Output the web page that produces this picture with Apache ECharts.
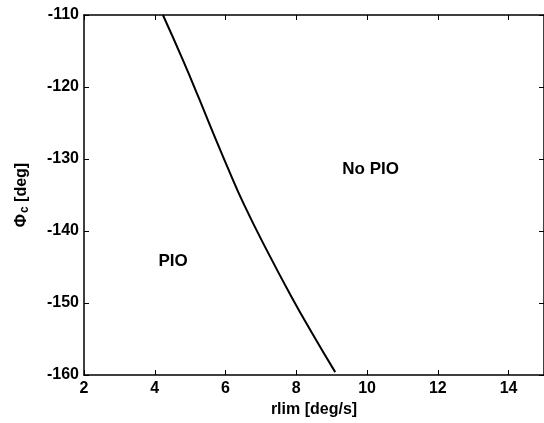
<!DOCTYPE html>
<html><head><meta charset="utf-8">
<script src="https://cdn.jsdelivr.net/npm/echarts@6/dist/echarts.min.js"></script>
<style>html,body{margin:0;padding:0;background:#fff}#c{width:544px;height:423px}</style>
</head><body><div id="c"></div>
<script>
var rlim = [4.23, 4.79, 5.26, 5.66, 6.07, 6.52, 7.19, 7.87, 8.39, 9.10];
var phiC = [-110, -116.2, -121.7, -126.5, -131.3, -136.3, -142.9, -149.2, -153.7, -159.6];
var regionLabels = ['PIO', 'No PIO'];
var regionX = [4.52, 10.10];
var regionY = [-144.2, -131.4];

var curve = rlim.map(function (x, i) { return [x, phiC[i]]; });
var font = 'Liberation Sans, Arial, sans-serif';
var chart = echarts.init(document.getElementById('c'), null, {renderer: 'canvas'});
var axLine = {show: true, lineStyle: {color: '#000', width: 1.5}};
var tickIn = {show: true, inside: true, length: 5, lineStyle: {color: '#000', width: 1}};
chart.setOption({
  animation: false,
  backgroundColor: '#fff',
  grid: {left: 84, right: -2, top: 15, bottom: 44, containLabel: false},
  xAxis: [{
    type: 'value', min: 2, max: 15, interval: 2, position: 'bottom',
    name: 'rlim [deg/s]', nameLocation: 'middle', nameGap: 27,
    nameTextStyle: {fontFamily: font, fontWeight: 'bold', fontSize: 16, color: '#000'},
    axisLine: axLine, axisTick: tickIn, splitLine: {show: false},
    axisLabel: {fontFamily: font, fontWeight: 'bold', fontSize: 16, color: '#000', margin: 6, showMaxLabel: false}
  }, {
    type: 'value', min: 2, max: 15, interval: 2, position: 'top',
    axisLine: axLine, axisTick: tickIn, splitLine: {show: false}, axisLabel: {show: false}
  }],
  yAxis: [{
    type: 'value', min: -160, max: -110, interval: 10, position: 'left',
    name: '{a|Φ}{s|c}{a| [deg]}', nameLocation: 'middle', nameGap: 53, nameRotate: 90,
    nameTextStyle: {rich: {
      a: {fontFamily: font, fontWeight: 'bold', fontSize: 16, color: '#000'},
      s: {fontFamily: font, fontWeight: 'bold', fontSize: 12, color: '#000', verticalAlign: 'bottom', padding: [7, 0, 0, 1]}
    }},
    axisLine: axLine, axisTick: tickIn, splitLine: {show: false},
    axisLabel: {fontFamily: font, fontWeight: 'bold', fontSize: 16, color: '#000', margin: 5}
  }, {
    type: 'value', min: -160, max: -110, interval: 10, position: 'right',
    axisLine: axLine, axisTick: tickIn, splitLine: {show: false}, axisLabel: {show: false}
  }],
  series: [{
    type: 'line', data: curve, smooth: 0.5, symbol: 'none',
    lineStyle: {color: '#000', width: 2}, xAxisIndex: 0, yAxisIndex: 0
  }, {
    type: 'scatter', symbolSize: 0, xAxisIndex: 0, yAxisIndex: 0,
    itemStyle: {opacity: 1},
    data: regionLabels.map(function (t, i) { return {value: [regionX[i], regionY[i]], name: t}; }),
    label: {show: true, position: 'inside', formatter: '{b}', fontFamily: font, fontWeight: 'bold', fontSize: 17, color: '#000'}
  }]
});
</script></body></html>
